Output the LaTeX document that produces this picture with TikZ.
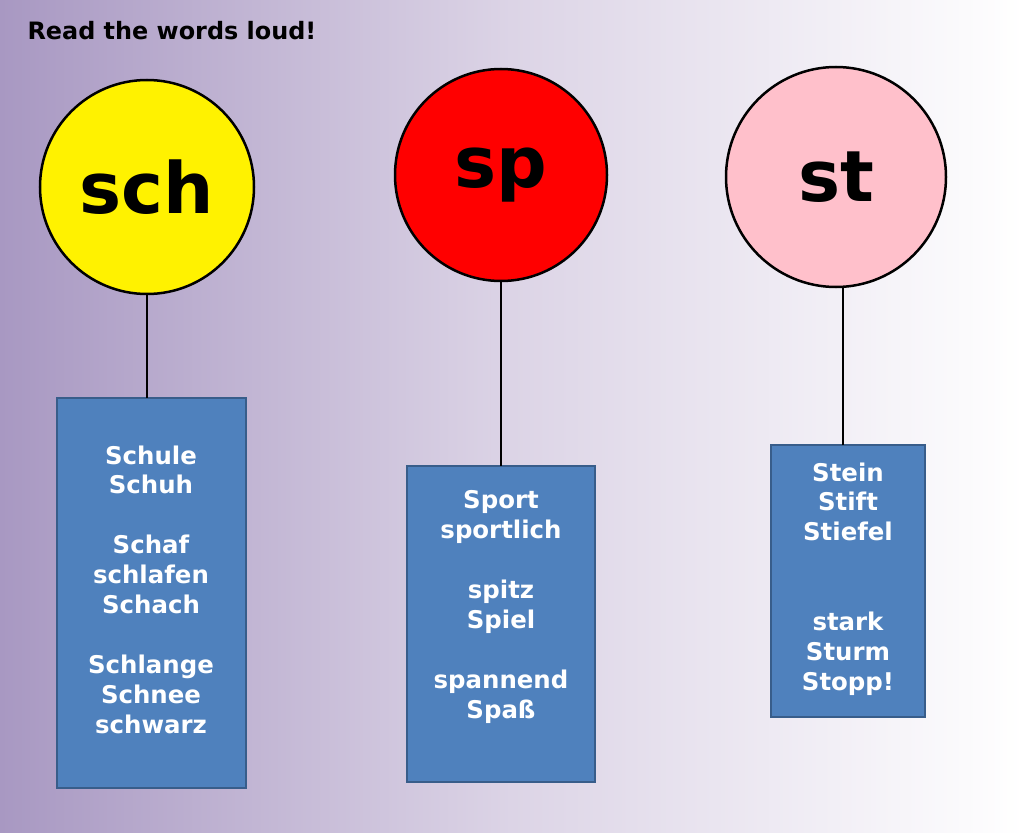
\documentclass[tikz,border=0pt]{standalone}
\usepackage{fontspec}
\setmainfont{DejaVu Sans}
\definecolor{boxblue}{HTML}{4F81BD}
\definecolor{boxedge}{HTML}{385D8A}
\definecolor{bgpurple}{HTML}{A898C2}
\definecolor{bgmid}{HTML}{DCD4E6}
\definecolor{pinkc}{HTML}{FFC0CB}
\begin{document}
\begin{tikzpicture}[x=1bp,y=-1bp,
  circ/.style={circle,draw=black,line width=2.5bp,minimum size=#1,inner sep=0pt,font=\fontsize{71}{71}\bfseries},
  wbox/.style={draw=boxedge,line width=1.5bp,fill=boxblue},
  words/.style={text=white,align=center,font=\fontsize{24.5}{30}\bfseries,anchor=north},
  conn/.style={line width=2.5bp}]
\shade[left color=bgpurple,right color=white,middle color=bgmid] (0,0) rectangle (1024,833);
\useasboundingbox (0,0) rectangle (1024,833);
\node[anchor=west,font=\fontsize{24}{24}\bfseries] (title) at (24,31) {Read the words loud!};
% boxes
\draw[wbox] (57,398) rectangle (246,788);
\draw[wbox] (407,466) rectangle (595,782);
\draw[wbox] (771,445) rectangle (925,717);
\coordinate (b1) at (147,398);
\coordinate (b2) at (501,466);
\coordinate (b3) at (843,445);
% circles
\node[circ=214bp,fill=yellow] (c1) at (147,187) {\raisebox{-4bp}{sch}};
\node[circ=212bp,fill=red] (c2) at (501,175) {sp};
\node[circ=220bp,fill=pinkc] (c3) at (836,177) {st};
\draw[conn] (c1.south) -- (b1);
\draw[conn] (c2.south) -- (b2);
\draw[conn] (843,286) -- (b3);
% words
\node[words] (w1) at (151,442) {Schule\\Schuh\\[30bp]Schaf\\schlafen\\Schach\\[30bp]Schlange\\Schnee\\schwarz};
\node[words] (w2) at (501,487) {Sport\\sportlich\\[30bp]spitz\\Spiel\\[30bp]spannend\\Spaß};
\node[words] (w3) at (848,459) {Stein\\Stift\\Stiefel\\[60bp]stark\\Sturm\\Stopp!};
\end{tikzpicture}
\end{document}
